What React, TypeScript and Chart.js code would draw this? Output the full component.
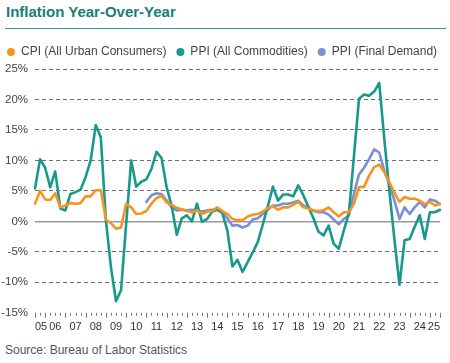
import React, { useEffect, useRef } from 'react';
import { Chart, registerables } from 'chart.js';

Chart.register(...registerables);

// Year tick labels (one per year, placed every 4th quarter)
const yearLabels = ['05', '06', '07', '08', '09', '10', '11', '12', '13', '14', '15', '16', '17', '18', '19', '20', '21', '22', '23', '24', '25'];

// Quarterly periods: 2005 Q2 .. 2025 Q2
const periods: string[] = [];
for (let y = 2005; y <= 2025; y++) {
  for (let q = 1; q <= 4; q++) {
    if ((y === 2005 && q < 2) || (y === 2025 && q > 2)) continue;
    periods.push(`${y} Q${q}`);
  }
}

// CPI (All Urban Consumers), YoY %
const cpi = [
  2.9, 5.0, 3.6, 3.5, 4.6, 2.3, 2.6, 3.0, 2.9, 3.0,
  4.1, 4.1, 5.1, 5.1, 0.3, -0.3, -1.2, -1.0, 2.9, 2.3,
  1.2, 1.3, 1.7, 2.9, 3.8, 4.2, 3.1, 2.7, 2.2, 2.0,
  1.7, 1.5, 1.8, 1.2, 1.6, 1.7, 2.3, 1.7, 1.2, 0.4,
  0.2, 0.2, 0.8, 1.1, 1.2, 1.6, 2.2, 2.5, 1.9, 2.3,
  2.3, 2.7, 3.2, 2.3, 2.1, 1.8, 1.7, 1.8, 2.3, 1.5,
  0.8, 1.5, 1.5, 2.9, 5.6, 5.7, 7.5, 8.9, 9.3, 8.1,
  6.4, 4.7, 3.2, 4.0, 3.7, 3.7, 3.4, 2.8, 3.2, 2.6, 2.9,
];

// PPI (All Commodities), YoY %
const ppiAll = [
  5.4, 10.2, 8.8, 5.6, 8.2, 2.1, 1.8, 4.5, 4.8, 5.2,
  7.3, 10.0, 15.8, 13.8, 0.2, -7.5, -13.1, -11.3, -0.5, 10.0,
  5.7, 6.5, 6.9, 8.6, 11.4, 10.4, 5.6, 2.5, -2.2, 0.5,
  1.0, 0.0, 2.9, -0.1, 0.4, 1.6, 1.9, 1.4, -1.5, -7.4,
  -6.3, -8.3, -6.7, -5.1, -3.4, -0.5, 2.5, 5.7, 3.4, 4.4,
  4.4, 4.1, 5.9, 4.3, 2.4, 0.5, -1.7, -2.3, -0.7, -3.7,
  -4.5, -1.5, 1.3, 10.7, 20.1, 20.8, 20.6, 21.3, 22.7, 13.5,
  5.0, -3.0, -10.4, -3.1, -2.9, -0.9, 1.0, -2.9, 1.5, 1.5, 1.9,
];

// PPI (Final Demand), YoY % (series begins late 2010)
const ppiFinal = [
  null, null, null, null, null, null, null, null, null, null,
  null, null, null, null, null, null, null, null, null, null,
  null, null, 3.2, 4.3, 4.6, 4.5, 3.4, 2.3, 1.8, 1.9,
  1.8, 1.9, 1.8, 1.6, 1.8, 1.9, 2.0, 1.5, 0.5, -0.7,
  -0.6, -1.0, -0.7, 0.3, 0.5, 1.2, 1.9, 2.6, 2.6, 2.9,
  2.9, 3.1, 3.4, 2.6, 2.3, 1.7, 1.5, 1.5, 1.1, 0.3,
  -0.5, 0.4, 1.0, 4.5, 7.7, 8.8, 10.2, 11.8, 11.3, 8.3,
  6.1, 3.4, 0.4, 2.3, 1.2, 2.3, 3.2, 2.3, 3.6, 3.4, 2.8,
];

const seriesNames = ['CPI (All Urban Consumers)', 'PPI (All Commodities)', 'PPI (Final Demand)'];
const seriesColors = ['#f7941d', '#17998c', '#7b8ed6'];

const FONT = "'Liberation Sans', Arial, Helvetica, sans-serif";

const quarterTicks = {
  id: 'quarterTicks',
  afterDraw(chart: any) {
    const xs = chart.scales.x;
    const { ctx, chartArea } = chart;
    ctx.save();
    ctx.strokeStyle = '#777';
    ctx.lineWidth = 1;
    for (let i = 0; i < periods.length; i++) {
      const px = Math.round(xs.getPixelForValue(i)) + 0.5;
      const major = i % 4 === 2 || i === 0 || i === periods.length - 1;
      ctx.beginPath();
      ctx.moveTo(px, chartArea.bottom);
      ctx.lineTo(px, chartArea.bottom + (major ? 5 : 3));
      ctx.stroke();
    }
    ctx.restore();
  },
};

const legendShrink = {
  id: 'legendShrink',
  beforeLayout(chart: any) {
    const lg = chart.legend;
    if (lg && !lg._patched) {
      const orig = lg.fit.bind(lg);
      lg.fit = function () {
        orig();
        this.height += 1;
      };
      lg._patched = true;
    }
  },
};

const CANVAS_W = 480;
const CANVAS_H = 306;

export default function App() {
  const ref = useRef<HTMLCanvasElement | null>(null);

  useEffect(() => {
    document.body.style.margin = '0';
    const canvas = ref.current;
    if (!canvas) return;
    const chart = new Chart(canvas, {
      type: 'line',
      data: {
        labels: periods,
        datasets: [
          { label: seriesNames[0], data: cpi, borderColor: seriesColors[0], backgroundColor: seriesColors[0] },
          { label: seriesNames[1], data: ppiAll, borderColor: seriesColors[1], backgroundColor: seriesColors[1] },
          { label: seriesNames[2], data: ppiFinal as any, borderColor: seriesColors[2], backgroundColor: seriesColors[2] },
        ].map((d) => ({
          ...d,
          borderWidth: 2.6,
          pointRadius: 0,
          pointHoverRadius: 0,
          tension: 0,
          borderJoinStyle: 'round' as const,
          borderCapStyle: 'round' as const,
          spanGaps: false,
          fill: false,
          yAxisID: 'y',
        })),
      },
      options: {
        responsive: false,
        animation: false,
        devicePixelRatio: 1,
        layout: { padding: { left: 0, right: 0, top: 0, bottom: 0 } },
        font: { family: FONT },
        plugins: {
          tooltip: { enabled: false },
          legend: {
            position: 'top',
            align: 'start',
            labels: {
              font: { family: FONT, size: 12 },
              color: '#444',
              usePointStyle: true,
              pointStyle: 'circle',
              boxHeight: 5.66,
              pointStyleWidth: 8,
              padding: 10,
              generateLabels: (c: any) =>
                Chart.defaults.plugins.legend.labels.generateLabels(c).map((l: any, i: number) => ({
                  ...l,
                  lineWidth: 0,
                  fillStyle: seriesColors[i],
                  strokeStyle: seriesColors[i],
                  pointStyle: 'circle',
                })),
            },
          },
        },
        scales: {
          x: {
            type: 'category',
            grid: { display: false, drawTicks: false },
            border: { display: false },
            ticks: {
              autoSkip: false,
              maxRotation: 0,
              minRotation: 0,
              align: 'inner',
              padding: 8,
              color: '#333',
              font: { family: FONT, size: 11 },
              callback: (_v: any, idx: number) => (idx % 4 === 0 ? yearLabels[idx / 4] : ''),
            },
          },
          y: {
            min: -15,
            max: 25,
            afterFit: (s: any) => {
              s.width = 38;
            },
            ticks: {
              stepSize: 5,
              padding: 7,
              color: '#444',
              font: { family: FONT, size: 11.5 },
              callback: (v: any) => `${v}%`,
            },
            grid: {
              drawTicks: false,
              color: (ctx: any) =>
                ctx.tick && ctx.tick.value === -15 ? 'rgba(0,0,0,0)' : ctx.tick && ctx.tick.value === 0 ? '#9a9a9a' : '#6f6f6f',
              lineWidth: (ctx: any) => (ctx.tick && ctx.tick.value === 0 ? 1.6 : 1),
            },
            border: {
              display: false,
              dash: (ctx: any) => (ctx.tick && ctx.tick.value === 0 ? [] : [4, 3]),
            } as any,
          },
          yPad: {
            type: 'linear',
            position: 'right',
            display: true,
            min: -15,
            max: 25,
            afterFit: (s: any) => {
              s.width = CANVAS_W - 443;
            },
            ticks: { display: false },
            grid: { display: false, drawTicks: false },
            border: { display: false },
          },
        },
      },
      plugins: [quarterTicks, legendShrink],
    } as any);
    return () => chart.destroy();
  }, []);

  return (
    <div style={{ position: 'relative', width: 450, height: 363, overflow: 'hidden', background: '#fff', fontFamily: FONT }}>
      <div
        style={{
          position: 'absolute',
          left: 6,
          top: 3,
          fontSize: 15,
          lineHeight: '18px',
          fontWeight: 'bold',
          color: '#1b7d75',
          whiteSpace: 'nowrap',
        }}
      >
        Inflation Year-Over-Year
      </div>
      <div style={{ position: 'absolute', left: 5, top: 27.5, width: 441, height: 1.5, background: '#2f978e' }} />
      <canvas
        ref={ref}
        width={CANVAS_W}
        height={CANVAS_H}
        style={{ position: 'absolute', left: -3, top: 36, width: CANVAS_W, height: CANVAS_H }}
      />
      <div
        style={{
          position: 'absolute',
          left: 5,
          top: 343,
          fontSize: 12,
          lineHeight: '14px',
          color: '#555',
          whiteSpace: 'nowrap',
        }}
      >
        Source: Bureau of Labor Statistics
      </div>
    </div>
  );
}
